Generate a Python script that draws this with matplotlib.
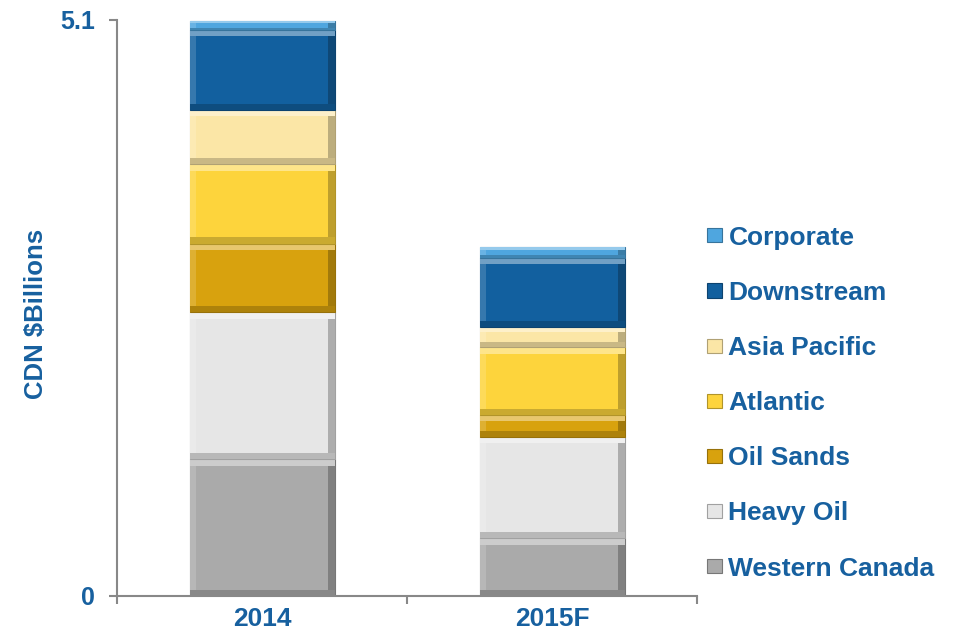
import matplotlib.pyplot as plt
import matplotlib.colors as mcolors
import numpy as np

plt.rcParams['font.family'] = ['Liberation Sans', 'DejaVu Sans']

years = ['2014', '2015F']
segments = ['Western Canada', 'Heavy Oil', 'Oil Sands', 'Atlantic',
            'Asia Pacific', 'Downstream', 'Corporate']
values = {
    'Western Canada': [1.21, 0.51],
    'Heavy Oil': [1.30, 0.90],
    'Oil Sands': [0.61, 0.19],
    'Atlantic': [0.70, 0.60],
    'Asia Pacific': [0.48, 0.18],
    'Downstream': [0.71, 0.61],
    'Corporate': [0.08, 0.10],
}
colors = {
    'Western Canada': '#aaaaaa',
    'Heavy Oil': '#e6e6e6',
    'Oil Sands': '#d8a20e',
    'Atlantic': '#fdd43c',
    'Asia Pacific': '#fbe6a6',
    'Downstream': '#12609f',
    'Corporate': '#4fa6df',
}
text_color = '#17609f'


def mix(c, other, t):
    a = np.array(mcolors.to_rgb(c))
    b = np.array(mcolors.to_rgb(other))
    return tuple(a * (1 - t) + b * t)


fig = plt.figure(figsize=(9.55, 6.42), dpi=100)
ax = fig.add_axes([0.1225, 0.0717, 0.6075, 0.8973])

x = np.arange(len(years))
width = 0.5
bev_y = 0.055   # bevel depth, data units
bev_x = 0.022
bottom = np.zeros(len(years))
handles = []
for seg in segments:
    v = np.array(values[seg])
    c = colors[seg]
    b = ax.bar(x, v, width=width, bottom=bottom, color=c,
               edgecolor=mix(c, 'black', 0.3), linewidth=0.8, label=seg)
    handles.append(b)
    # soft bevel: light top/left, dark bottom/right
    d = np.minimum(bev_y, v * 0.25)
    ax.bar(x - width / 2 + bev_x / 2, v, width=bev_x, bottom=bottom,
           color=mix(c, 'white', 0.15), linewidth=0)
    ax.bar(x + width / 2 - bev_x / 2, v, width=bev_x, bottom=bottom,
           color=mix(c, 'black', 0.25), linewidth=0)
    ax.bar(x, d, width=width, bottom=bottom + v - d,
           color=mix(c, 'white', 0.4), linewidth=0)
    ax.bar(x, d, width=width, bottom=bottom,
           color=mix(c, 'black', 0.2), linewidth=0)
    bottom += v

ax.set_xlim(-0.5, 1.5)
ax.set_ylim(0, 5.1)
ax.set_yticks([0, 5.1])
ax.set_yticklabels(['0', '5.1'])
ax.set_xticks(x)
ax.set_xticklabels(years)
ax.set_xticks([-0.5, 0.5, 1.5], minor=True)
ax.tick_params(axis='x', which='major', length=0, pad=8)
ax.tick_params(axis='x', which='minor', length=6, color='#888888', width=1.5,
               direction='out')
ax.tick_params(axis='y', length=6, color='#888888', width=1.5, pad=10)
for lab in ax.get_xticklabels():
    lab.set_color(text_color)
    lab.set_fontweight('bold')
    lab.set_fontsize(19)
for lab in ax.get_yticklabels():
    lab.set_color(text_color)
    lab.set_fontweight('bold')
    lab.set_fontsize(18)

for s in ['top', 'right']:
    ax.spines[s].set_visible(False)
for s in ['left', 'bottom']:
    ax.spines[s].set_color('#888888')
    ax.spines[s].set_linewidth(1.5)

ax.set_ylabel('CDN $Billions', color=text_color, fontsize=18.5,
              fontweight='bold')
ax.yaxis.set_label_coords(-0.119, 0.49)

leg = ax.legend(handles[::-1], segments[::-1], loc='center left',
                bbox_to_anchor=(0.7296, 0.372), bbox_transform=fig.transFigure,
                frameon=False, fontsize=19, handlelength=0.55, handleheight=0.45,
                handletextpad=0.25, labelspacing=1.18, borderaxespad=0)
for t in leg.get_texts():
    t.set_color(text_color)
    t.set_fontweight('bold')

fig.savefig('out.png', dpi=100)
